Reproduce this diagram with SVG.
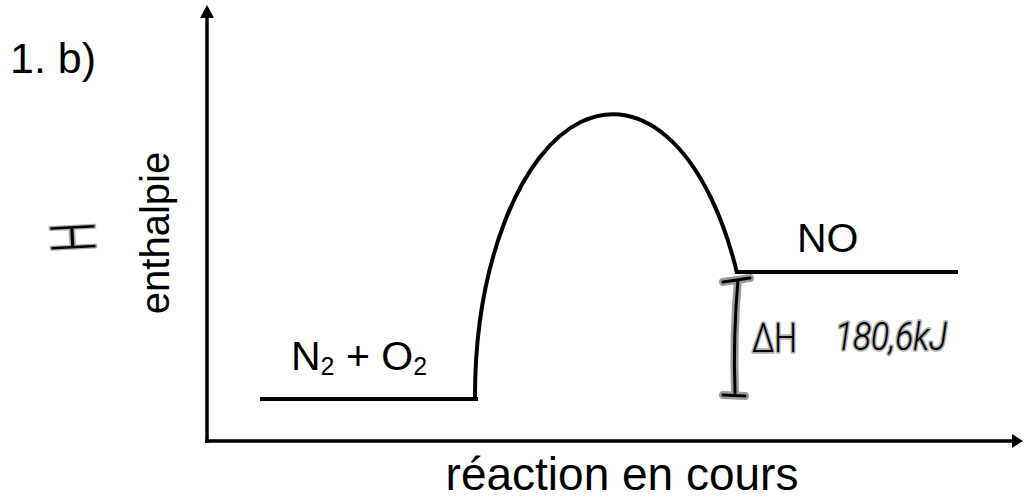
<svg xmlns="http://www.w3.org/2000/svg" width="1024" height="504" viewBox="0 0 1024 504">
<style>
  .lbl { font-family: "Liberation Sans", Arial, sans-serif; fill: #000; }
  .ax { stroke: #000; stroke-width: 3.5; fill: none; }
  .lvl { stroke: #000; stroke-width: 4; fill: none; }
  .hand-halo { stroke: #8a8a8a; stroke-width: 8; stroke-linecap: round; fill: none; opacity: 0.85; }
  .hand { stroke: #000; stroke-width: 3; stroke-linecap: round; fill: none; }
  .htext { font-family: Roboto, Inter, "Open Sans", sans-serif; font-weight: 300; fill: #000; stroke: #999; stroke-width: 3.5; paint-order: stroke; stroke-linejoin: round; stroke-opacity: 0.8; }
</style>
<rect width="1024" height="504" fill="#fff"/>

<g id="title"><text class="lbl" x="10" y="73" font-size="43">1. b)</text></g>

<g id="connectors">
  <line id="y-axis" class="ax" x1="207" y1="443" x2="207" y2="16"/>
  <path d="M200,18 L207,5 L214,18 z" fill="#000"/>
  <line id="x-axis" class="ax" x1="205" y1="441" x2="1014" y2="441"/>
  <path d="M1012,434 L1023,441 L1012,448 z" fill="#000"/>
  <path id="curve" class="lvl" d="M475 400 A138 283 0 0 1 737 273"/>
</g>

<g id="ylabel"><text class="lbl" transform="translate(169,233) rotate(-90)" text-anchor="middle" font-size="40">enthalpie</text></g>
<g id="xlabel"><text class="lbl" x="622" y="490" text-anchor="middle" font-size="46">réaction en cours</text></g>

<g id="H-mark"><text class="htext" transform="translate(95,236) rotate(-93)" text-anchor="middle" font-size="62" textLength="30" lengthAdjust="spacingAndGlyphs">H</text></g>

<g id="reactants">
  <line class="lvl" x1="260" y1="399" x2="478" y2="399"/>
  <text class="lbl" x="291" y="370" font-size="41">N<tspan font-size="25" dy="5">2</tspan><tspan dy="-5"> + O</tspan><tspan font-size="25" dy="5">2</tspan></text>
</g>

<g id="products">
  <line class="lvl" x1="735" y1="272" x2="958" y2="272"/>
  <text class="lbl" x="797" y="252" font-size="41">NO</text>
</g>

<g id="deltaH">
  <path class="hand-halo" d="M723 282 L750 278 M738 280 Q733 335 735 393 M723 395 L745 396"/>
  <path class="hand" d="M723 282 L750 278 M738 280 Q733 335 735 393 M723 395 L745 396"/>
  <text class="htext" x="752" y="352" font-size="40" textLength="45" lengthAdjust="spacingAndGlyphs">ΔH</text>
  <text class="htext" x="835" y="350" font-size="38" textLength="112" lengthAdjust="spacingAndGlyphs" font-style="italic">180,6kJ</text>
</g>
</svg>
